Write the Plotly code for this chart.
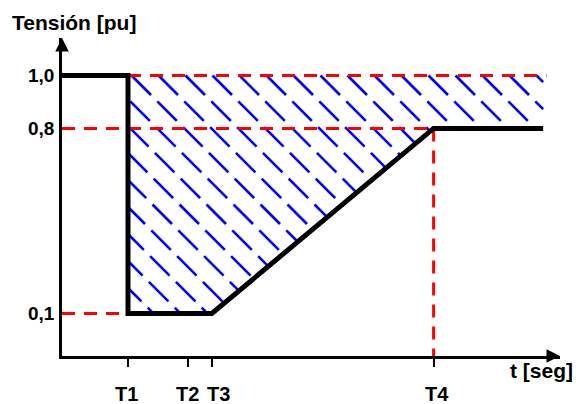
import numpy as np
import plotly.graph_objects as go

# ---------------- data ----------------
tick_t = [1.0, 1.91, 2.27, 5.63]          # T1, T2, T3, T4
tick_text = ["T1", "T2", "T3", "T4"]
volt_ticks = [0.1, 0.8, 1.0]
volt_text = ["0,1", "0,8", "1,0"]

curve_t = [0.0, 1.0, 1.0, 2.27, 5.63, 7.29]   # voltage profile (time)
curve_v = [1.0, 1.0, 0.1, 0.1, 0.8, 0.8]      # voltage profile (pu)

ref_end_t = 7.34                                # end of the 1,0 reference line

# ---------------- layout geometry ----------------
W, H = 576, 404
ML, MR, MT, MB = 62, 16, 38, 48
XR = [0.0, 7.545]
YR = [-0.0607, 1.1418]
PW, PH = W - ML - MR, H - MT - MB


def to_px(t, v):
    return (ML + (t - XR[0]) / (XR[1] - XR[0]) * PW,
            MT + (YR[1] - v) / (YR[1] - YR[0]) * PH)


def to_data(x, y):
    return (XR[0] + (x - ML) / PW * (XR[1] - XR[0]),
            YR[1] - (y - MT) / PH * (YR[1] - YR[0]))


# hatched region: between 1,0 pu and the voltage profile, from T1 to the end
T1, T3, T4, TE = curve_t[1], curve_t[3], curve_t[4], curve_t[5]
poly = [(T1, 1.0), (TE, 1.0), (TE, curve_v[5]), (T4, curve_v[4]),
        (T3, curve_v[3]), (T1, curve_v[2])]
poly_px = [to_px(*p) for p in poly]

# dashed 45-degree hatch (pixel space: x - y = c)
y_top = to_px(T1, 1.0)[1]
x_start = to_px(T1, 1.0)[0] + 3.5
spacing = 27.0
period_v = 25.8
dash_v = 19.5

hx, hy = [], []
for k in range(-12, 20):
    c = x_start - y_top + k * spacing
    ys = []
    n = len(poly_px)
    for i in range(n):
        (x1, y1), (x2, y2) = poly_px[i], poly_px[(i + 1) % n]
        den = (x2 - x1) - (y2 - y1)
        if abs(den) < 1e-9:
            continue
        s = (c - (x1 - y1)) / den
        if 0 <= s < 1:
            ys.append(y1 + s * (y2 - y1))
    ys = sorted(ys)
    for a, b in zip(ys[0::2], ys[1::2]):
        m0 = int(np.floor((a - y_top) / period_v)) - 1
        m1 = int(np.ceil((b - y_top) / period_v)) + 1
        for m in range(m0, m1 + 1):
            d0 = y_top + m * period_v
            d1 = d0 + dash_v
            s0, s1 = max(a, d0), min(b, d1)
            if s1 - s0 > 0.8:
                p0 = to_data(s0 + c, s0)
                p1 = to_data(s1 + c, s1)
                hx += [p0[0], p1[0], None]
                hy += [p0[1], p1[1], None]

fig = go.Figure()

fig.add_trace(go.Scatter(x=hx, y=hy, mode="lines",
                         line=dict(color="#0000ff", width=2.6),
                         hoverinfo="skip", showlegend=False))

red = dict(color="#ff0000", width=3, dash="13px,9px")
fig.add_trace(go.Scatter(x=[T1, ref_end_t], y=[1.0, 1.0], mode="lines", line=red, showlegend=False))
fig.add_trace(go.Scatter(x=[XR[0], T4], y=[curve_v[4], curve_v[4]], mode="lines", line=red, showlegend=False))
fig.add_trace(go.Scatter(x=[XR[0], T1], y=[curve_v[2], curve_v[2]], mode="lines", line=red, showlegend=False))
fig.add_trace(go.Scatter(x=[T4, T4], y=[curve_v[4], YR[0]], mode="lines", line=red, showlegend=False))

fig.add_trace(go.Scatter(x=curve_t, y=curve_v, mode="lines",
                         line=dict(color="black", width=5),
                         showlegend=False))

font_b = dict(family="Liberation Sans, Arial, sans-serif", color="black", weight="bold")

# x tick labels (placed just under the ticks; T3 label sits a little to the right)
label_shift = [-2, -1, 7, 3]
x_labels = [dict(x=tx, y=0, xref="x", yref="paper", text=tt, showarrow=False,
                 xanchor="center", yanchor="middle", xshift=sh, yshift=-38,
                 font=dict(size=20, **font_b))
            for tx, tt, sh in zip(tick_t, tick_text, label_shift)]

fig.update_layout(
    width=W, height=H,
    margin=dict(l=ML, r=MR, t=MT, b=MB, autoexpand=False),
    paper_bgcolor="white", plot_bgcolor="white",
    showlegend=False,
    xaxis=dict(range=XR, showgrid=False, zeroline=False, automargin=False,
               showline=True, linecolor="black", linewidth=2.7,
               tickvals=tick_t, ticktext=tick_text, showticklabels=False,
               ticks="outside", ticklen=8, tickwidth=2, tickcolor="black"),
    yaxis=dict(range=YR, showgrid=False, zeroline=False, automargin=False,
               showline=True, linecolor="black", linewidth=2.7,
               tickvals=volt_ticks, ticktext=volt_text,
               ticks="", ticklabelstandoff=1,
               tickfont=dict(size=19, **font_b)),
    annotations=[
        dict(x=0, y=1, xref="paper", yref="paper", ax=0, ay=14,
             showarrow=True, arrowhead=2, arrowwidth=2.7, arrowsize=1.0,
             arrowcolor="black", text=""),
        dict(x=1, y=0, xref="paper", yref="paper", ax=-14, ay=0,
             showarrow=True, arrowhead=2, arrowwidth=2.7, arrowsize=1.0,
             arrowcolor="black", text=""),
        dict(x=(74 - ML) / PW, y=(H - MB - 23) / PH, xref="paper", yref="paper",
             text="Tensión [pu]", showarrow=False, xanchor="center", yanchor="middle",
             font=dict(size=21, **font_b)),
        dict(x=(575 - ML) / PW, y=(H - MB - 370) / PH, xref="paper", yref="paper",
             text="t [seg]", showarrow=False, xanchor="right", yanchor="middle",
             font=dict(size=21, **font_b)),
    ] + x_labels,
)

fig.write_html("out.html", config={"displayModeBar": False},
               post_script="document.body.style.margin='0';document.body.style.overflow='hidden';")
